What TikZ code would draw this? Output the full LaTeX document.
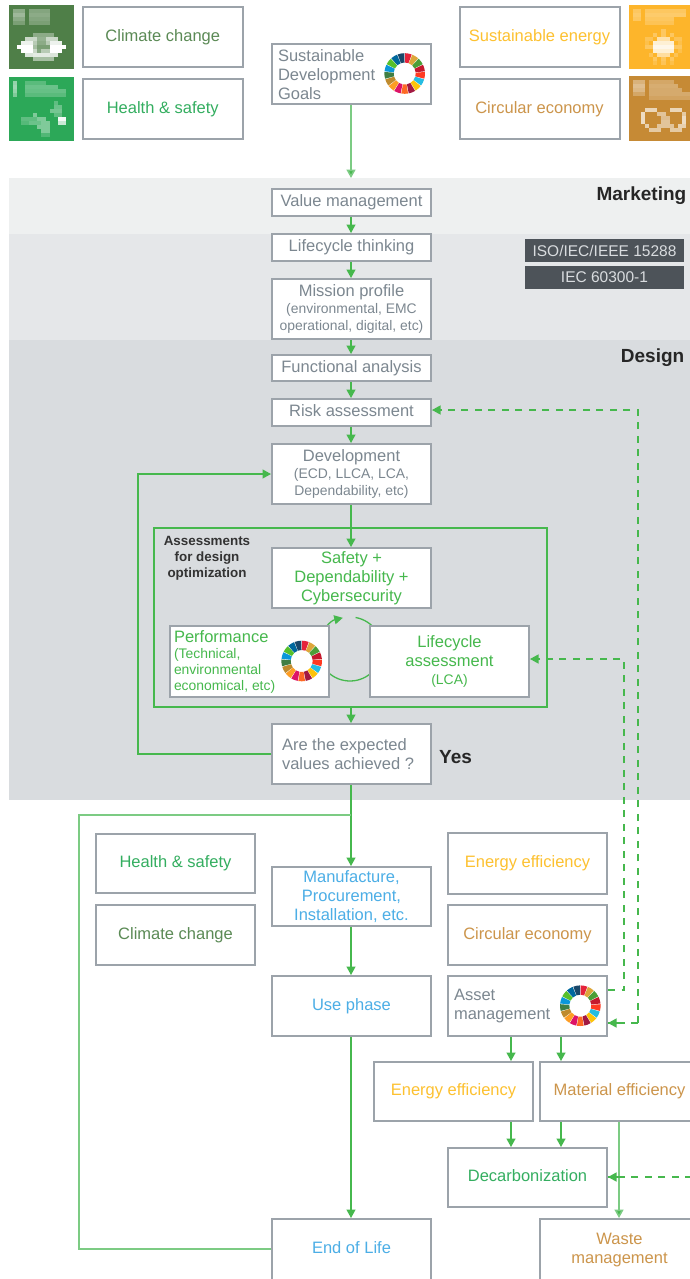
\documentclass[tikz,border=0pt]{standalone}
\usepackage{fontspec}
\setmainfont{Liberation Sans}
\usetikzlibrary{arrows.meta}
\definecolor{bandA}{HTML}{EEF0F0}
\definecolor{bandB}{HTML}{E5E7E9}
\definecolor{bandC}{HTML}{D9DCDF}
\definecolor{edgeC}{HTML}{9CA3AA}
\definecolor{txtGray}{HTML}{7C8790}
\definecolor{txtClim}{HTML}{5B8A55}
\definecolor{txtHeal}{HTML}{34AE60}
\definecolor{txtEner}{HTML}{FDC130}
\definecolor{txtCirc}{HTML}{CC954B}
\definecolor{txtBlue}{HTML}{4CAEE6}
\definecolor{flowG}{HTML}{46B84D}
\definecolor{flowL}{HTML}{7CCB83}
\definecolor{darkBox}{HTML}{4D5359}
\definecolor{iconClim}{HTML}{4F7F48}
\definecolor{iconHeal}{HTML}{2CA858}
\definecolor{iconEner}{HTML}{FDB52B}
\definecolor{iconCirc}{HTML}{C68A35}
\definecolor{s1}{HTML}{E5243B}\definecolor{s2}{HTML}{DDA63A}\definecolor{s3}{HTML}{4C9F38}
\definecolor{s4}{HTML}{C5192D}\definecolor{s5}{HTML}{FF3A21}\definecolor{s6}{HTML}{26BDE2}
\definecolor{s7}{HTML}{FCC30B}\definecolor{s8}{HTML}{A21942}\definecolor{s9}{HTML}{FD6925}
\definecolor{s10}{HTML}{DD1367}\definecolor{s11}{HTML}{FD9D24}\definecolor{s12}{HTML}{BF8B2E}
\definecolor{s13}{HTML}{3F7E44}\definecolor{s14}{HTML}{0A97D9}\definecolor{s15}{HTML}{56C02B}
\definecolor{s16}{HTML}{00689D}\definecolor{s17}{HTML}{19486A}
\newcommand{\fbig}{\fontsize{16.5}{19}\selectfont}
\newcommand{\fsmall}{\fontsize{13.9}{16}\selectfont}
\tikzset{
  bx/.style={draw=edgeC,line width=2pt,fill=white,inner sep=0pt,align=center,font=\fbig},
  flow/.style={draw=flowG,line width=1.3pt,-{Triangle[width=9pt,length=8.5pt]}},
  flowlight/.style={draw=flowL,line width=1.6pt,-{Triangle[width=9pt,length=8.5pt,fill=flowG]}},
  plainlight/.style={draw=flowL,line width=1.5pt},
  dashflow/.style={draw=flowG,line width=1.2pt,dash pattern=on 7pt off 6.5pt},
  dashtip/.style={flowG,line width=1.2pt,-{Triangle[width=9pt,length=8.5pt]}},
  label/.style={font=\fontsize{19}{21}\bfseries\selectfont,text=black!85,inner sep=0pt},
  darkbx/.style={fill=darkBox,inner sep=0pt,text=bandC,font=\fontsize{15.5}{18}\selectfont}
}
% name, x1,y1,x2,y2 (outer edges), extra style, text
\newcommand{\bxn}[7]{%
  \pgfmathsetmacro{\cxx}{(#2+#4)/2}\pgfmathsetmacro{\cyy}{(#3+#5)/2}%
  \pgfmathsetmacro{\wdd}{#4-#2-2}\pgfmathsetmacro{\htt}{#5-#3-2}%
  \node[bx,minimum width=\wdd pt,minimum height=\htt pt,#6] (#1) at (\cxx,\cyy) {\rule[-3.5pt]{0pt}{15.8pt}#7};}
\newcommand{\sdgwheel}[2]{%
  \foreach \i in {1,...,17}{%
    \pgfmathsetmacro{\aa}{90-(\i-1)*360/17-1}\pgfmathsetmacro{\bb}{90-\i*360/17+1}%
    \fill[s\i] ([shift={(#1,#2)}]\aa:20.3pt) arc[start angle=\aa,end angle=\bb,radius=20.3pt]
      -- ([shift={(#1,#2)}]\bb:11pt) arc[start angle=\bb,end angle=\aa,radius=11pt] -- cycle;}}
% x,y,w,h,colour, list of row/firstcol/lastcol/opacity
\newcommand{\pxicon}[6]{%
  \fill[#5] (#1,#2) rectangle ++(#3,#4);
  \foreach \r/\ca/\cb/\op in {#6}{%
    \pgfmathsetmacro{\xa}{#1+\ca*4.06}\pgfmathsetmacro{\xb}{#1+(\cb+1)*4.06}%
    \pgfmathsetmacro{\ya}{#2+\r*4.02}\pgfmathsetmacro{\yb}{#2+(\r+1)*4.02}%
    \fill[white,opacity=\op] (\xa,\ya) rectangle (\xb,\yb);}}
\begin{document}
\begin{tikzpicture}[x=1pt,y=-1pt]
\useasboundingbox (0,0) rectangle (690,1279);
\clip (0,0) rectangle (690,1279);
\fill[white] (0,0) rectangle (690,1279);
% bands
\fill[bandA] (9,178) rectangle (690,234);
\fill[bandB] (9,234) rectangle (690,340);
\fill[bandC] (9,340) rectangle (690,800);
% icons
\pxicon{9}{5}{65}{64}{iconClim}{1/1/3/.35,2/1/3/.45,3/1/3/.35,4/1/3/.25,1/5/9/.3,2/5/9/.35,3/5/9/.3,4/5/9/.25,
 7/6/10/.35,8/4/6/.7,8/7/8/.4,8/9/11/.7,9/3/5/.9,9/6/6/.6,9/7/8/.35,9/9/9/.6,9/10/12/.9,
 10/2/5/1,10/6/6/.5,10/7/9/.25,10/10/13/1,11/3/5/1,11/6/6/.7,11/7/7/.3,11/8/9/.6,11/10/12/1,
 12/4/5/.8,12/6/9/.85,12/10/11/.8,13/6/10/.5}
\pxicon{9}{77}{65}{64}{iconHeal}{1/1/1/.5,2/1/1/.55,3/1/1/.5,4/1/1/.4,1/4/8/.22,2/4/11/.3,3/4/13/.28,4/4/13/.22,
 6/11/11/.25,7/11/12/.3,8/10/12/.35,9/6/6/.4,9/11/12/.25,10/3/6/.25,10/7/8/.4,10/12/13/.95,
 11/3/4/.2,11/5/7/.3,11/8/9/.4,11/12/13/.75,12/7/9/.4,13/8/9/.4,14/8/9/.18}
\pxicon{629}{5}{61}{64}{iconEner}{1/1/2/.25,2/1/2/.3,3/1/2/.25,1/4/13/.25,2/4/13/.3,3/4/10/.25,4/4/10/.2,
 6/8/8/.25,7/6/6/.25,7/8/8/.25,7/10/10/.25,8/4/5/.2,8/7/9/.6,8/11/12/.2,9/4/4/.15,9/6/10/.8,9/12/12/.15,
 10/4/5/.25,10/6/10/.9,10/11/12/.25,11/6/10/.8,11/12/12/.15,12/5/5/.2,12/7/9/.55,12/11/11/.2,
 13/6/6/.25,13/8/8/.25,13/10/10/.25,14/6/6/.15,14/8/8/.2,14/10/10/.15}
\pxicon{629}{76}{61}{65}{iconCirc}{1/1/3/.35,2/1/3/.45,3/1/3/.4,4/1/3/.25,1/5/10/.25,2/5/11/.3,3/5/12/.28,4/5/14/.28,5/5/14/.22,
 8/4/6/.65,8/10/12/.65,9/3/3/.7,9/7/8/.5,9/13/13/.55,10/3/3/.7,10/8/9/.45,10/13/13/.7,
 11/3/3/.7,11/8/9/.5,11/13/13/.7,12/4/4/.6,12/7/10/.5,12/12/13/.6,13/5/7/.55,13/10/12/.55}
% top boxes
\bxn{climTop}{82}{6}{243.5}{68}{text=txtClim}{Climate change}
\bxn{healTop}{82}{78}{243.5}{140}{text=txtHeal}{Health \& safety}
\bxn{enerTop}{458.5}{6}{620.5}{68}{text=txtEner}{Sustainable energy}
\bxn{circTop}{458.5}{78}{620.5}{140}{text=txtCirc}{Circular economy}
\bxn{sdg}{271}{43}{432}{105}{text=txtGray,text width=147pt,align=flush left}{Sustainable\\Development\\Goals}
\sdgwheel{404.7}{73.5}
% marketing
\bxn{value}{271}{188}{432}{217}{text=txtGray}{Value management}
\bxn{think}{271}{233}{432}{262}{text=txtGray}{Lifecycle thinking}
\bxn{mission}{271}{278}{432}{340}{text=txtGray}{Mission profile\\[-2pt]{\fsmall (environmental, EMC}\\[-2pt]{\fsmall operational, digital, etc)}}
\bxn{func}{271}{354}{432}{382}{text=txtGray}{Functional analysis}
\bxn{risk}{271}{398}{432}{427}{text=txtGray}{Risk assessment}
\bxn{dev}{271}{443}{432}{505}{text=txtGray}{Development\\[-2pt]{\fsmall (ECD, LLCA, LCA,}\\[-2pt]{\fsmall Dependability, etc)}}
\node[label,anchor=east] (mkt) at (686.5,195.5) {Marketing};
\node[label,anchor=east] (des) at (684.5,358) {Design};
\node[darkbx,minimum width=159pt,minimum height=23pt] (iso) at (604.5,250.5) {ISO/IEC/IEEE 15288};
\node[darkbx,minimum width=159pt,minimum height=23pt] (iec) at (604.5,277.5) {IEC 60300-1};
% assessments
\node[draw=flowG,line width=2pt,minimum width=393pt,minimum height=179pt,inner sep=0pt] (assess) at (350.5,617.5) {};
\node[font=\fontsize{13.4}{16}\bfseries\selectfont,text=black!80,align=center,inner sep=0pt] (assessT) at (207,558) {Assessments\\for design\\optimization};
\draw[flowG,line width=1.3pt,-{Triangle[width=9pt,length=8.5pt]}] ([shift={(350,649)}]80:32pt) arc[start angle=80,end angle=-257,radius=32pt];
\bxn{safety}{271}{547}{432}{609}{text=flowG}{Safety +\\Dependability +\\Cybersecurity}
\bxn{perf}{169}{625}{330}{698}{text=flowG,text width=151pt,align=flush left}{Performance\\[-3pt]{\fsmall (Technical,}\\[-3pt]{\fsmall environmental}\\[-3pt]{\fsmall economical, etc)}}
\sdgwheel{301.7}{661}
\bxn{lca}{369}{625}{530}{698}{text=flowG}{Lifecycle\\assessment\\[-1pt]{\fsmall (LCA)}}
\bxn{achieved}{271}{723}{432}{785}{text=txtGray,text width=139pt,align=flush left}{Are the expected\\values achieved ?}
\node[label,anchor=west] (yes) at (439,757) {Yes};
% lower boxes
\bxn{healB}{95}{833}{256}{894}{text=txtHeal}{Health \& safety}
\bxn{climB}{95}{904}{256}{966}{text=txtClim}{Climate change}
\bxn{manu}{271}{866}{432}{927}{text=txtBlue}{Manufacture,\\Procurement,\\Installation, etc.}
\bxn{use}{271}{975}{432}{1037}{text=txtBlue}{Use phase}
\bxn{eol}{271}{1218}{432}{1281}{text=txtBlue}{End of Life}
\bxn{enerB}{447}{832}{608}{895}{text=txtEner}{Energy efficiency}
\bxn{circB}{447}{904}{608}{966}{text=txtCirc}{Circular economy}
\bxn{asset}{447}{975}{608}{1037}{text=txtGray,text width=147pt,align=flush left}{Asset\\management}
\sdgwheel{580.3}{1005.7}
\bxn{enerC}{373}{1061}{534}{1122}{text=txtEner}{Energy efficiency}
\bxn{matC}{539}{1061}{700}{1122}{text=txtCirc}{Material efficiency}
\bxn{decarb}{447}{1147}{608}{1208}{text=txtHeal}{Decarbonization}
\bxn{waste}{539}{1218}{700}{1281}{text=txtCirc}{Waste\\management}
% helper coordinates
\coordinate (mainCol) at (351,0);
\coordinate (sdgEnd) at (351,178);
\coordinate (branch) at (351,815);
\coordinate (leftRail) at (79,815);
\coordinate (railEnd) at (79,1249);
\coordinate (loopRail) at (138,754);
\coordinate (dashA) at (624,659);
\coordinate (dashB) at (638,410);
\coordinate (colA) at (511,1000);
\coordinate (colB) at (561,1000);
\coordinate (colC) at (619,1000);
\coordinate (rightEdge) at (692,1177);
\coordinate (assetOutA) at (608,990);
\coordinate (assetInB) at (608,1023);
% connectors
\draw[flowlight] (mainCol |- sdg.south) -- (sdgEnd);
\draw[flow] (mainCol |- value.south) -- (mainCol |- think.north);
\draw[flow] (mainCol |- think.south) -- (mainCol |- mission.north);
\draw[flow] (mainCol |- mission.south) -- (mainCol |- func.north);
\draw[flow] (mainCol |- func.south) -- (mainCol |- risk.north);
\draw[flow] (mainCol |- risk.south) -- (mainCol |- dev.north);
\draw[flow] (mainCol |- dev.south) -- (mainCol |- safety.north);
\draw[flow] (mainCol |- assess.south) -- (mainCol |- achieved.north);
\draw[flow] (mainCol |- achieved.south) -- (mainCol |- manu.north);
\draw[flow] (mainCol |- manu.south) -- (mainCol |- use.north);
\draw[flow] (mainCol |- use.south) -- (mainCol |- eol.north);
\draw[flow] (achieved.west) -- (loopRail) -- (loopRail |- dev.west) -- (dev.west);
\draw[plainlight] (branch) -- (leftRail) -- (railEnd) -- (eol.west |- railEnd);
\draw[flow] (colA |- asset.south) -- (colA |- enerC.north);
\draw[flow] (colB |- asset.south) -- (colB |- matC.north);
\draw[flow] (colA |- enerC.south) -- (colA |- decarb.north);
\draw[flow] (colB |- matC.south) -- (colB |- decarb.north);
\draw[flowlight] (colC |- matC.south) -- (colC |- waste.north);
% dashed feedback
\draw[dashflow] (assetOutA) -- (dashA |- assetOutA) -- (dashA) -- (lca.east |- dashA);
\draw[dashtip] ([xshift=10pt]lca.east |- dashA) -- (lca.east |- dashA);
\draw[dashflow] (dashB |- assetInB) -- (dashB) -- (risk.east |- dashB);
\draw[dashtip] ([xshift=10pt]risk.east |- dashB) -- (risk.east |- dashB);
\draw[dashflow] (dashB |- assetInB) -- (assetInB);
\draw[dashtip] ([xshift=10pt]assetInB) -- (assetInB);
\draw[dashflow] (rightEdge) -- (decarb.east |- rightEdge);
\draw[dashtip] ([xshift=10pt]decarb.east |- rightEdge) -- (decarb.east |- rightEdge);
\end{tikzpicture}
\end{document}
